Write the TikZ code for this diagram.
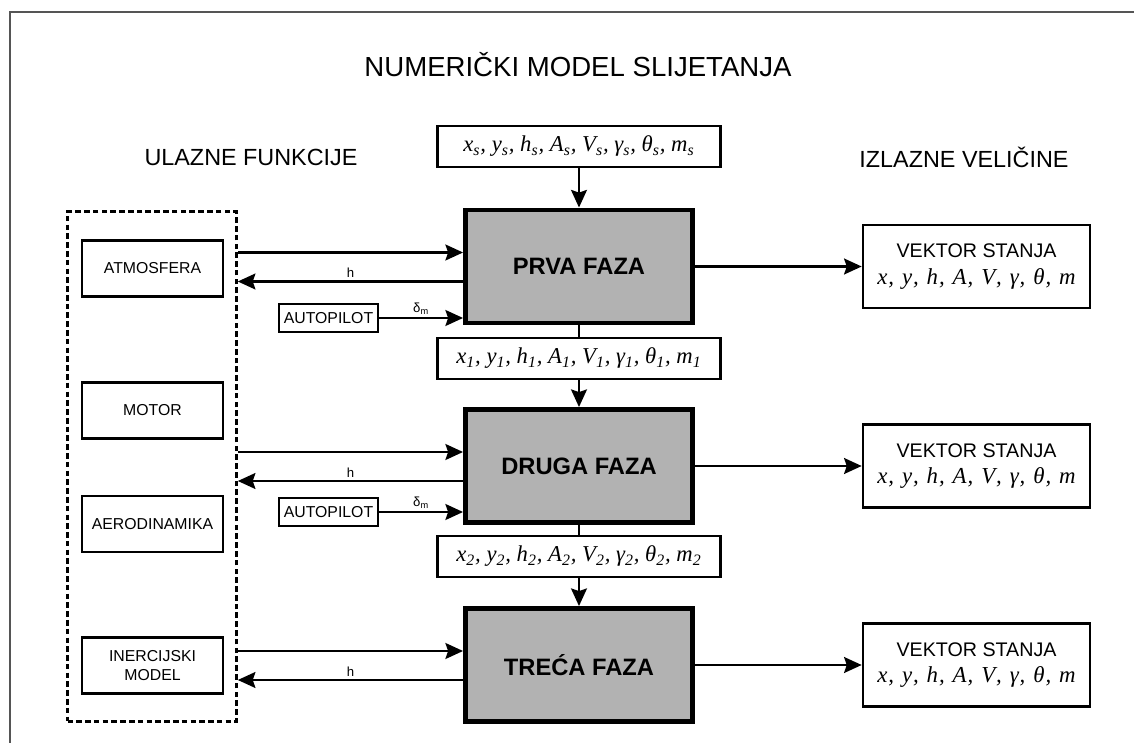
\documentclass[tikz,border=0pt]{standalone}
\usepackage{fontspec}
\setmainfont{Liberation Sans}
\newfontfamily\tms{Liberation Serif}
\usetikzlibrary{arrows.meta, calc}
\definecolor{fazagray}{RGB}{178,178,178}
\definecolor{framegray}{RGB}{85,85,85}
\newcommand{\ix}[1]{\textsubscript{#1}}
\newcommand{\velicine}[1]{{\tms\itshape x#1, y#1, h#1, A#1, V#1, γ#1, θ#1, m#1}}
\newcommand{\zr}{\kern0.5pt,\hspace{0.35em}}
\newcommand{\stanje}{{\tms\itshape x\zr y\zr h\zr A\zr V\zr γ\zr θ\zr m}}

\begin{document}
\begin{tikzpicture}[x=0.02cm, y=-0.02cm, line width=1.5pt,
    >={Stealth[length=10pt, width=9pt, inset=1.5pt]},
    faza/.style={draw, line width=2.8pt, fill=fazagray, minimum width=4.54cm,
      minimum height=2.26cm, inner sep=0pt, font=\fontsize{13.5}{16}\selectfont\bfseries},
    ulaz/.style={draw, fill=white, minimum width=5.66cm, minimum height=0.82cm,
      inner sep=0pt, font=\fontsize{12.9}{15}\selectfont},
    funk/.style={draw, minimum width=2.82cm, minimum height=1.12cm, inner sep=0pt,
      align=center, font=\fontsize{9}{11}\selectfont},
    pilot/.style={draw, minimum width=1.98cm, minimum height=0.56cm, inner sep=0pt,
      font=\fontsize{9}{11}\selectfont},
    vektor/.style={draw, minimum width=4.54cm, minimum height=1.66cm, inner sep=0pt,
      align=center, font=\fontsize{11.2}{15}\selectfont},
    oznaka/.style={font=\fontsize{13.3}{16}\selectfont},
    mala/.style={font=\fontsize{7.5}{8}\selectfont, inner sep=1.5pt}]

    \useasboundingbox (0,0) rectangle (1134,743);
    \draw[framegray, line width=1.2pt] (10,743) -- (10,12) -- (1134,12);

    \node[font=\fontsize{15.7}{18}\selectfont] (naslov) at (578,65)
    {NUMERIČKI MODEL SLIJETANJA};
    \node[oznaka] (ulazne) at (251,157) {ULAZNE FUNKCIJE};
    \node[oznaka] (izlazne) at (964,157) {IZLAZNE VELIČINE};

    \node[faza] (prva) at (579,266.5) {PRVA FAZA};
    \node[faza] (druga) at (579,466) {DRUGA FAZA};
    \node[faza] (treca) at (579,665) {TREĆA FAZA};

    \node[ulaz] (ulazS) at (579,146.5) {\velicine{\ix{s}}};
    \node[ulaz] (ulaz1) at (579,358.5) {\velicine{\ix{1}}};
    \node[ulaz] (ulaz2) at (579,556.5) {\velicine{\ix{2}}};

    \node[draw, dash pattern=on 3.2pt off 1.8pt, minimum width=3.38cm,
      minimum height=10.2cm] (funkcije) at (152,466.5) {};
    \node[funk] (atmosfera) at (152.5,268.5) {ATMOSFERA};
    \node[funk] (motor) at (152.5,410.5) {MOTOR};
    \node[funk] (aero) at (152.5,524) {AERODINAMIKA};
    \node[funk] (inercija) at (152.5,665.5) {INERCIJSKI\\MODEL};

    \node[pilot] (pilot1) at (328.5,318) {AUTOPILOT};
    \node[pilot] (pilot2) at (328.5,512) {AUTOPILOT};

    \node[vektor] (vektor1) at (976.5,266.5)
    {VEKTOR STANJA\\{\fontsize{13}{15}\selectfont\stanje}};
    \node[vektor] (vektor2) at (976.5,466)
    {VEKTOR STANJA\\{\fontsize{13}{15}\selectfont\stanje}};
    \node[vektor] (vektor3) at (976.5,665)
    {VEKTOR STANJA\\{\fontsize{13}{15}\selectfont\stanje}};

    \draw[->] (ulazS) -- (prva);
    \draw (prva) -- (ulaz1);
    \draw[->] (ulaz1) -- (druga);
    \draw (druga) -- (ulaz2);
    \draw[->] (ulaz2) -- (treca);

    \foreach \f/\v in {prva/vektor1, druga/vektor2, treca/vektor3}{
      \draw[->] (\f) -- (\v);
      \coordinate (\f-u) at ($(\f.west)+(0,-14)$);
      \coordinate (\f-h) at ($(\f.west)+(0,15)$);
      \draw[->] (funkcije.east |- \f-u) -- (\f-u);
      \draw[->] (\f-h) -- node[mala, above] {h} (funkcije.east |- \f-h);
    }

    \foreach \p/\f in {pilot1/prva, pilot2/druga}{
      \draw[->] (\p.east) -- node[mala, above] {δ\ix{m}}
      (\p.east -| \f.west);
    }
\end{tikzpicture}
\end{document}
